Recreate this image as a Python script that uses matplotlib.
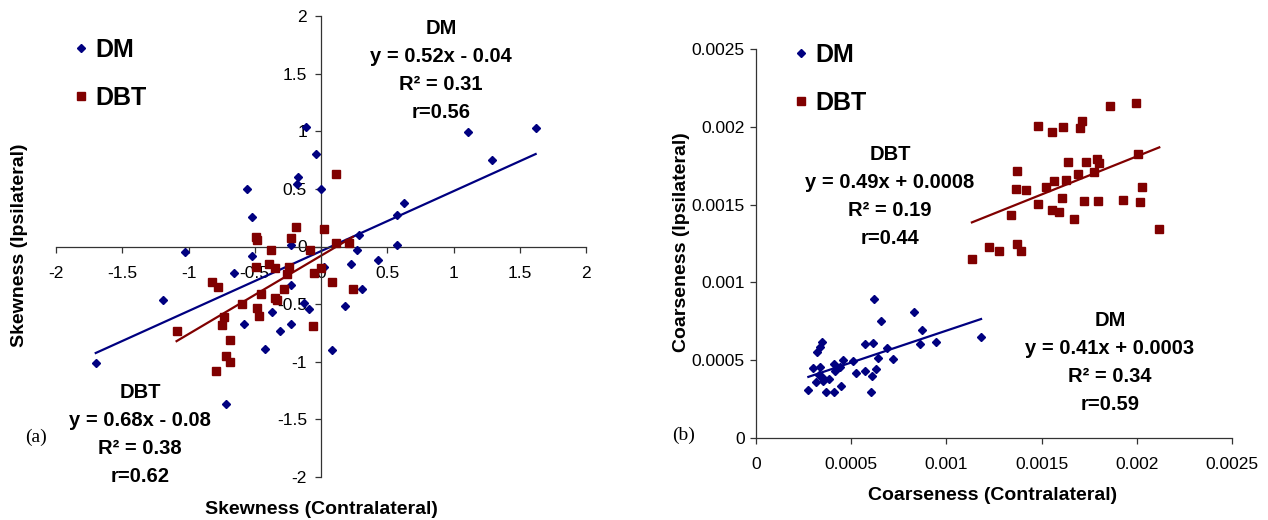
import numpy as np
import matplotlib
matplotlib.use("Agg")
import matplotlib.pyplot as plt
from matplotlib.ticker import FixedLocator, FuncFormatter

plt.rcParams["font.family"] = ["Liberation Sans", "DejaVu Sans"]
plt.rcParams["axes.unicode_minus"] = False

NAVY = "#000080"
MAROON = "#800000"

# ── (a) Skewness ─────────────────────────────────────────────
skew_dm_x = [-0.56, -0.52, -0.11, -0.04, -0.17, -0.18, 0.00, -0.23, -1.03, -0.52,
             1.62, 1.11, 1.29, 0.63, 0.57, 0.29, 0.57, 0.27, 0.43, 0.23,
             0.02, 0.31, 0.18, 0.08, -0.66, -0.23, -0.13, -0.09, -0.37, -0.58,
             -0.23, -0.31, -0.42, -0.72, -1.70, -1.19]
skew_dm_y = [0.50, 0.26, 1.04, 0.80, 0.60, 0.54, 0.50, 0.01, -0.05, -0.08,
             1.03, 0.99, 0.75, 0.38, 0.27, 0.10, 0.01, -0.03, -0.12, -0.15,
             -0.18, -0.37, -0.52, -0.90, -0.23, -0.33, -0.49, -0.54, -0.57, -0.67,
             -0.67, -0.73, -0.89, -1.37, -1.01, -0.46]

skew_dbt_x = [-0.49, -0.48, -0.19, -0.23, -0.38, -0.08, 0.02, 0.11, 0.11, 0.21,
              0.00, 0.08, 0.24, -0.05, -0.06, -0.49, -0.39, -0.35, -0.24, -0.26,
              -0.82, -0.78, -0.45, -0.28, -0.35, -0.33, -0.60, -0.48, -0.47, -0.73,
              -0.75, -0.69, -0.72, -0.69, -0.79, -1.09]
skew_dbt_y = [0.08, 0.06, 0.17, 0.07, -0.03, -0.03, 0.15, 0.63, 0.03, 0.03,
              -0.19, -0.31, -0.37, -0.23, -0.69, -0.18, -0.15, -0.19, -0.18, -0.24,
              -0.31, -0.35, -0.41, -0.37, -0.45, -0.46, -0.50, -0.53, -0.60, -0.61,
              -0.68, -0.81, -0.95, -1.00, -1.08, -0.73]

# trendline coefficients (slope, intercept)
skew_dm_fit = (0.52, -0.04)
skew_dbt_fit = (0.68, -0.08)

# ── (b) Coarseness ───────────────────────────────────────────
coarse_dm_x = [0.000275, 0.000298, 0.000313, 0.000319, 0.000336, 0.000345, 0.000336, 0.000331,
               0.000345, 0.000354, 0.000383, 0.000368, 0.000411, 0.000415, 0.000411, 0.000441,
               0.000446, 0.000459, 0.000508, 0.000524, 0.000574, 0.000574, 0.000613, 0.000621,
               0.000611, 0.000630, 0.000639, 0.000602, 0.000657, 0.000690, 0.000721, 0.000832,
               0.000870, 0.000860, 0.000944, 0.001182]
coarse_dm_y = [0.000308, 0.000448, 0.000358, 0.000551, 0.000587, 0.000619, 0.000454, 0.000405,
               0.000390, 0.000368, 0.000377, 0.000298, 0.000474, 0.000431, 0.000298, 0.000454,
               0.000336, 0.000501, 0.000497, 0.000420, 0.000604, 0.000431, 0.000609, 0.000895,
               0.000398, 0.000441, 0.000512, 0.000294, 0.000754, 0.000580, 0.000508, 0.000810,
               0.000694, 0.000602, 0.000617, 0.000651]

coarse_dbt_x = [0.001858, 0.001994, 0.001483, 0.001553, 0.001612, 0.001700, 0.001714, 0.001640,
                0.001733, 0.001791, 0.001803, 0.002005, 0.001373, 0.001689, 0.001775, 0.001567,
                0.001630, 0.001364, 0.001420, 0.001523, 0.002027, 0.001607, 0.001483, 0.001721,
                0.001798, 0.001928, 0.002015, 0.001553, 0.001593, 0.001339, 0.001670, 0.002118,
                0.001225, 0.001278, 0.001369, 0.001390, 0.001134]
coarse_dbt_y = [0.002132, 0.002153, 0.002005, 0.001967, 0.002001, 0.001992, 0.002037, 0.001776,
                0.001772, 0.001791, 0.001765, 0.001827, 0.001714, 0.001697, 0.001710, 0.001652,
                0.001656, 0.001598, 0.001592, 0.001611, 0.001611, 0.001540, 0.001504, 0.001523,
                0.001523, 0.001530, 0.001519, 0.001463, 0.001451, 0.001431, 0.001409, 0.001341,
                0.001226, 0.001204, 0.001249, 0.001200, 0.001152]

coarse_dm_fit = (0.41, 0.00028)
coarse_dbt_fit = (0.49, 0.00083)

skew_ticks = [-2, -1.5, -1, -0.5, 0, 0.5, 1, 1.5, 2]
coarse_ticks = [0, 0.0005, 0.001, 0.0015, 0.002, 0.0025]

# ── Figure ───────────────────────────────────────────────────
fig = plt.figure(figsize=(12.68, 5.2), dpi=100)
axA = fig.add_axes([56 / 1268, 43 / 520, 530 / 1268, 461 / 520])
axB = fig.add_axes([756 / 1268, 82 / 520, 476 / 1268, 389 / 520])

fmt = FuncFormatter(lambda v, p: f"{v:g}")
ann_font = dict(fontsize=14.5, fontweight="bold", ha="center", va="center",
                linespacing=1.6)
leg_kw = dict(frameon=False, prop=dict(size=18, weight="bold"), handletextpad=0.1,
              labelspacing=0.95, handlelength=1.0, borderpad=0, borderaxespad=0)


def trend(ax, xs, fit, color):
    x0, x1 = min(xs), max(xs)
    xx = np.array([x0, x1])
    ax.plot(xx, fit[0] * xx + fit[1], color=color, lw=1.6, zorder=2)


def style_axis(ax):
    for side in ("top", "right"):
        ax.spines[side].set_visible(False)
    for side in ("left", "bottom"):
        ax.spines[side].set_color("#333333")
        ax.spines[side].set_linewidth(0.9)
    ax.tick_params(direction="out", length=4, width=0.9, color="#333333",
                   labelsize=12.5, pad=3)
    ax.xaxis.set_major_formatter(fmt)
    ax.yaxis.set_major_formatter(fmt)
    ax.set_facecolor("none")


# panel (a)
style_axis(axA)
axA.set_xlim(-2, 2)
axA.set_ylim(-2, 2)
axA.spines["left"].set_position(("data", 0))
axA.spines["bottom"].set_position(("data", 0))
axA.xaxis.set_major_locator(FixedLocator(skew_ticks))
axA.yaxis.set_major_locator(FixedLocator(skew_ticks))
axA.tick_params(axis="x", pad=10)
axA.tick_params(axis="y", pad=6)

axA.plot(skew_dm_x, skew_dm_y, "D", color=NAVY, ms=3.9, ls="none", label="DM", zorder=3)
axA.plot(skew_dbt_x, skew_dbt_y, "s", color=MAROON, ms=5.4, ls="none", label="DBT", zorder=3)
trend(axA, skew_dm_x, skew_dm_fit, NAVY)
trend(axA, skew_dbt_x, skew_dbt_fit, MAROON)

axA.legend(loc="upper left", bbox_to_anchor=(68 / 1268, 1 - 38 / 520),
           bbox_transform=fig.transFigure, **leg_kw)

fig.text(441 / 1268, 1 - 71 / 520, "DM\ny = 0.52x - 0.04\nR² = 0.31\nr=0.56", **ann_font)
fig.text(140 / 1268, 1 - 434 / 520, "DBT\ny = 0.68x - 0.08\nR² = 0.38\nr=0.62", **ann_font)
fig.text(36 / 1268, 1 - 437 / 520, "(a)", family="Liberation Serif", fontsize=14,
         ha="center", va="center")
fig.text(321 / 1268, 1 - 510 / 520, "Skewness (Contralateral)", fontsize=14,
         fontweight="bold", ha="center", va="center")
fig.text(20 / 1268, 1 - 245 / 520, "Skewness (Ipsilateral)", fontsize=14,
         fontweight="bold", ha="center", va="center", rotation=90)

# panel (b)
style_axis(axB)
axB.set_xlim(0, 0.0025)
axB.set_ylim(0, 0.0025)
axB.xaxis.set_major_locator(FixedLocator(coarse_ticks))
axB.yaxis.set_major_locator(FixedLocator(coarse_ticks))
axB.tick_params(axis="x", pad=10)
axB.tick_params(axis="y", pad=4)

axB.plot(coarse_dm_x, coarse_dm_y, "D", color=NAVY, ms=3.9, ls="none", label="DM", zorder=3)
axB.plot(coarse_dbt_x, coarse_dbt_y, "s", color=MAROON, ms=5.4, ls="none", label="DBT", zorder=3)
trend(axB, coarse_dm_x, coarse_dm_fit, NAVY)
trend(axB, coarse_dbt_x, coarse_dbt_fit, MAROON)

axB.legend(loc="upper left", bbox_to_anchor=(788 / 1268, 1 - 43 / 520),
           bbox_transform=fig.transFigure, **leg_kw)

fig.text(890 / 1268, 1 - 196 / 520, "DBT\ny = 0.49x + 0.0008\nR² = 0.19\nr=0.44", **ann_font)
fig.text(1110 / 1268, 1 - 363 / 520, "DM\ny = 0.41x + 0.0003\nR² = 0.34\nr=0.59", **ann_font)
fig.text(684 / 1268, 1 - 435 / 520, "(b)", family="Liberation Serif", fontsize=14,
         ha="center", va="center")
fig.text(993 / 1268, 1 - 496 / 520, "Coarseness (Contralateral)", fontsize=14,
         fontweight="bold", ha="center", va="center")
fig.text(681 / 1268, 1 - 242 / 520, "Coarseness (Ipsilateral)", fontsize=14,
         fontweight="bold", ha="center", va="center", rotation=90)

fig.savefig("out.png", dpi=100, facecolor="white")
